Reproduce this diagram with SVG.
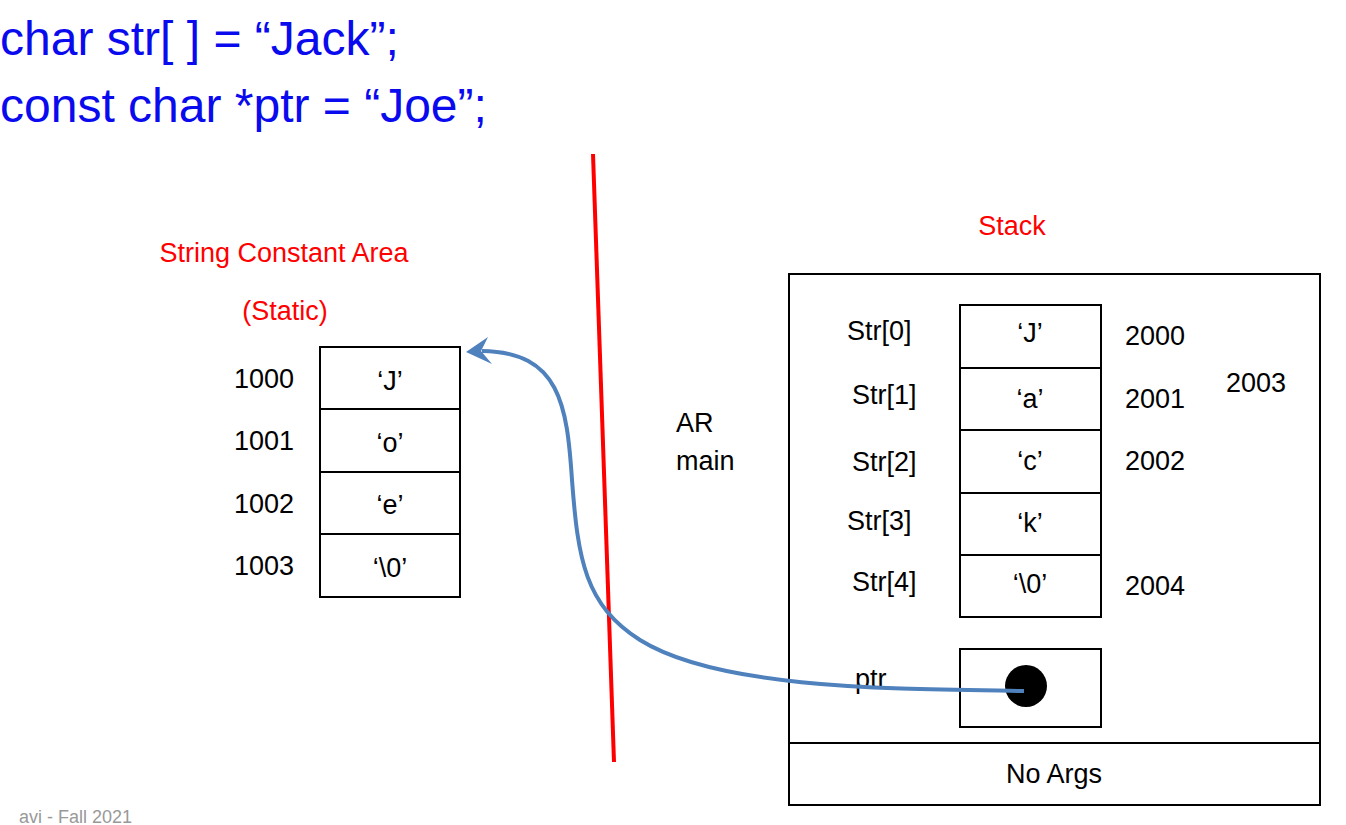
<svg xmlns="http://www.w3.org/2000/svg" width="1346" height="825" viewBox="0 0 1346 825">
<style>
text{font-family:"Liberation Sans",Arial,sans-serif;fill:#000}
.t{font-size:27px}
.c{text-anchor:middle}
.red{fill:#ff0000}
.blue{fill:#0a0aee;font-size:48px}
.box{fill:#fff;stroke:#000;stroke-width:2}
</style>
<rect width="1346" height="825" fill="#fff"/>
<g id="code">
<text class="blue" x="0" y="55">char str[ ] = “Jack”;</text>
<text class="blue" x="0" y="122">const char *ptr = “Joe”;</text>
</g>
<g id="divider"><line x1="593" y1="154" x2="614" y2="762" stroke="#ff0000" stroke-width="4"/></g>
<g id="string-constant-area">
<text class="t red c" x="284" y="262">String Constant Area</text>
<text class="t red c" x="285" y="320">(Static)</text>
<rect class="box" x="320" y="347" width="140" height="62"/>
<rect class="box" x="320" y="409" width="140" height="63"/>
<rect class="box" x="320" y="472" width="140" height="62"/>
<rect class="box" x="320" y="534" width="140" height="63"/>
<text class="t c" x="390" y="390">‘J’</text>
<text class="t c" x="390" y="452">‘o’</text>
<text class="t c" x="390" y="514">‘e’</text>
<text class="t c" x="390" y="577">‘\0’</text>
<text class="t" x="234" y="388">1000</text>
<text class="t" x="234" y="450">1001</text>
<text class="t" x="234" y="513">1002</text>
<text class="t" x="234" y="575">1003</text>
</g>
<g id="ar-label">
<text class="t" x="676" y="432">AR</text>
<text class="t" x="676" y="470">main</text>
</g>
<g id="stack">
<text class="t red c" x="1012" y="235">Stack</text>
<rect class="box" x="789" y="274" width="531" height="531"/>
<line x1="789" y1="743" x2="1320" y2="743" stroke="#000" stroke-width="2"/>
<text class="t c" x="1054" y="783">No Args</text>
<rect class="box" x="960" y="305" width="141" height="63"/>
<rect class="box" x="960" y="368" width="141" height="62"/>
<rect class="box" x="960" y="430" width="141" height="63"/>
<rect class="box" x="960" y="493" width="141" height="62"/>
<rect class="box" x="960" y="555" width="141" height="62"/>
<text class="t c" x="1030" y="342">‘J’</text>
<text class="t c" x="1030" y="408">‘a’</text>
<text class="t c" x="1030" y="470">‘c’</text>
<text class="t c" x="1030" y="532">‘k’</text>
<text class="t c" x="1030" y="593">‘\0’</text>
<text class="t" x="847" y="340">Str[0]</text>
<text class="t" x="852" y="404">Str[1]</text>
<text class="t" x="852" y="471">Str[2]</text>
<text class="t" x="847" y="530">Str[3]</text>
<text class="t" x="852" y="591">Str[4]</text>
<text class="t" x="1125" y="345">2000</text>
<text class="t" x="1125" y="408">2001</text>
<text class="t" x="1125" y="470">2002</text>
<text class="t" x="1125" y="595">2004</text>
<text class="t" x="1226" y="392">2003</text>
<rect class="box" x="960" y="649" width="141" height="78"/>
<text class="t" x="855" y="688">ptr</text>
<circle cx="1026" cy="686" r="21" fill="#000"/>
</g>
<g id="connectors">
<path d="M1024,691 C900,689 720,690 640,640 C585,605 578,560 572,480 C567,405 560,352 482,351" fill="none" stroke="#4f81bd" stroke-width="4"/>
<polygon points="466,352 488,337 481,351 492,364" fill="#4f81bd"/>
</g>
<g id="footer"><text x="132" y="823" font-size="18" text-anchor="end" style="fill:#999">avi - Fall 2021</text></g>
</svg>
